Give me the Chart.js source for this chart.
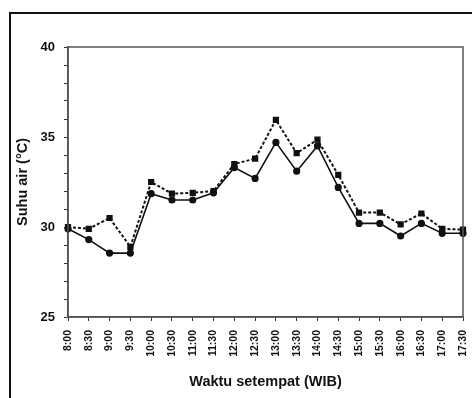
<!DOCTYPE html>
<html><head><meta charset="utf-8">
<script src="https://cdn.jsdelivr.net/npm/chart.js@4"></script>
<style>html,body{margin:0;padding:0;background:#fff}#wrap{width:472px;height:398px;position:relative}</style>
</head><body><div id="wrap"><canvas id="c" width="472" height="398"></canvas></div>
<script>
const categories = ["8:00","8:30","9:00","9:30","10:00","10:30","11:00","11:30","12:00","12:30","13:00","13:30","14:00","14:30","15:00","15:30","16:00","16:30","17:00","17:30"];
const seriesSolid = [29.9,29.3,28.55,28.55,31.85,31.5,31.5,31.9,33.3,32.7,34.7,33.1,34.5,32.2,30.2,30.2,29.5,30.2,29.65,29.65];
const seriesDashed = [30.0,29.9,30.5,28.9,32.5,31.85,31.9,32.0,33.5,33.8,35.95,34.1,34.85,32.9,30.8,30.8,30.15,30.75,29.9,29.85];
const yLabels = [25,30,35,40];

const FONT = "'Liberation Sans', Arial, sans-serif";
const framePlugin = {
  id: 'frame',
  beforeDraw(chart){
    const ctx = chart.ctx;
    ctx.save();
    ctx.strokeStyle = '#111'; ctx.lineWidth = 2;
    ctx.beginPath(); ctx.moveTo(10, 400); ctx.lineTo(10, 13); ctx.lineTo(480, 13); ctx.stroke();
    ctx.restore();
  },
  afterDatasetsDraw(chart){
    const a = chart.chartArea, ctx = chart.ctx;
    ctx.save();
    ctx.strokeStyle = '#555'; ctx.lineWidth = 1.5;
    ctx.strokeRect(a.left, a.top, a.right - a.left, a.bottom - a.top);
    ctx.restore();
  }
};

new Chart(document.getElementById('c'), {
  type: 'line',
  data: {
    labels: categories,
    datasets: [
      { label: 'A', data: seriesSolid, borderColor: '#111', backgroundColor: '#111', borderWidth: 1.6,
        pointStyle: 'circle', pointRadius: 2.8, tension: 0 },
      { label: 'B', data: seriesDashed, borderColor: '#111', backgroundColor: '#111', borderWidth: 2,
        borderDash: [3, 2], pointStyle: 'rect', pointRadius: 3, tension: 0 }
    ]
  },
  options: {
    responsive: false, animation: false, devicePixelRatio: 1,
    layout: { padding: { left: 0, top: 47, right: 9, bottom: 0 } },
    plugins: { legend: { display: false }, tooltip: { enabled: false } },
    scales: {
      x: {
        offset: false,
        afterFit(s){ s.height = 81; s.paddingLeft = 0; s.paddingRight = 0; },
        grid: { display: true, drawOnChartArea: false, drawTicks: true, tickLength: 4, color: '#333', tickColor: '#333' },
        border: { display: true, color: '#444', width: 1.5 },
        ticks: { autoSkip: false, maxRotation: 90, minRotation: 90, padding: 9, color: '#111',
          font: { family: FONT, size: 10.5, weight: 'bold' } },
        title: { display: true, text: 'Waktu setempat (WIB)', color: '#111',
          font: { family: FONT, size: 14.5, weight: 'bold' }, padding: { top: 0, bottom: 7 } }
      },
      y: {
        min: 25, max: 40,
        afterFit(s){ s.width = 68; s.paddingTop = 0; s.paddingBottom = 0; },
        grid: { display: true, drawOnChartArea: false, drawTicks: true, tickLength: 4, color: '#333', tickColor: '#333' },
        border: { display: true, color: '#444', width: 1.5 },
        ticks: { stepSize: 1, autoSkip: false, padding: 9, color: '#111',
          callback: v => yLabels.includes(v) ? String(v) : '',
          font: { family: FONT, size: 13, weight: 'bold' } },
        title: { display: true, text: 'Suhu air (°C)', color: '#111',
          font: { family: FONT, size: 14.5, weight: 'bold' }, padding: { top: 14, bottom: 0 } }
      }
    }
  },
  plugins: [framePlugin]
});
</script></body></html>
